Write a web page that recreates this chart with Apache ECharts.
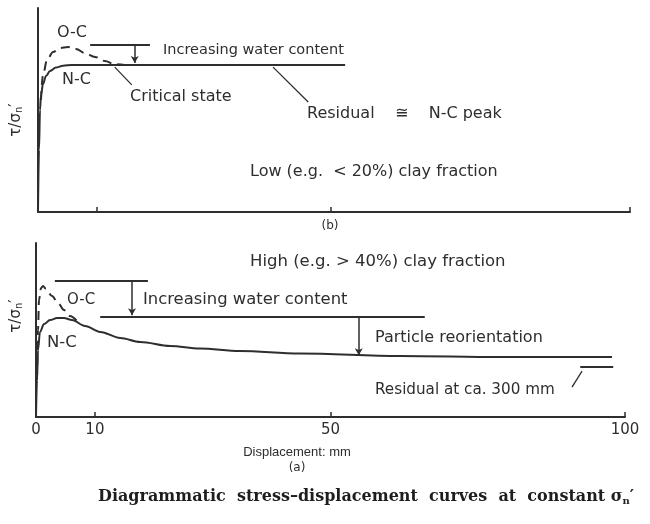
<!DOCTYPE html>
<html>
<head>
<meta charset="utf-8">
<script src="https://cdn.jsdelivr.net/npm/echarts@6/dist/echarts.min.js"></script>
<style>
  html, body { margin: 0; padding: 0; background: #fff; }
  #chart { width: 650px; height: 524px; }
</style>
</head>
<body>
<div id="chart"></div>
<script>
// displacement ticks (mm) and labels
const tickValues = [10, 50, 100];
const tickLabels = [0, 10, 50, 100];

// (b) low clay fraction: [displacement, tau/sigma'n] (arbitrary units)
const lowNC = [[0, 0], [0.17, 3.04], [0.34, 5.0], [0.51, 5.74], [0.85, 6.27], [1.37, 6.67],
  [2.05, 6.91], [3.07, 7.08], [4.27, 7.17], [5.8, 7.21], [52.4, 7.21]];
const lowOC = [[0.51, 5.49], [0.85, 6.72], [1.54, 7.45], [2.56, 7.84], [3.75, 8.04], [5.12, 8.09],
  [6.48, 7.99], [8.02, 7.79], [9.73, 7.6], [11.4, 7.4], [13.1, 7.25], [14.8, 7.21]];
const lowPeakLine = [[8.9, 8.19], [19.1, 8.19]];
const lowWaterArrow = [[16.5, 8.19], [16.5, 7.3]];
const lowCritLeader = [[13.1, 7.1], [16.0, 6.23]];
const lowResLeader = [[40.1, 7.1], [46.1, 5.39]];

// (a) high clay fraction
const highNC = [[0, 0], [0.17, 2.13], [0.34, 3.85], [0.68, 4.89], [1.36, 5.34], [2.38, 5.57],
  [3.57, 5.69], [4.75, 5.69], [6.11, 5.57], [8.32, 5.23], [10.9, 4.89], [14.3, 4.54],
  [17.7, 4.31], [22.8, 4.08], [27.8, 3.94], [34.6, 3.79], [44.8, 3.65], [61.8, 3.51],
  [78.8, 3.45], [97.8, 3.45]];
const highOC = [[0.17, 2.13], [0.34, 5.0], [0.51, 6.72], [0.85, 7.41], [1.19, 7.53], [1.7, 7.36],
  [2.72, 6.95], [3.74, 6.55], [4.75, 6.15], [5.77, 5.8], [7.13, 5.46]];
const highTopLine = [[3.2, 7.82], [19.0, 7.82]];
const highPeakLine = [[10.9, 5.75], [66.0, 5.75]];
const highWaterArrow = [[16.3, 7.82], [16.3, 5.85]];
const highReorientArrow = [[54.8, 5.75], [54.8, 3.55]];
const highResidualLine = [[92.4, 2.87], [98.0, 2.87]];
const highResLeader = [[91.0, 1.72], [92.7, 2.64]];

const INK = '#2e2e2e';
const FONT = '"DejaVu Sans", sans-serif';

const chart = echarts.init(document.getElementById('chart'));

function curve(data, idx, dashed) {
  return {
    type: 'line', xAxisIndex: idx, yAxisIndex: idx, data,
    showSymbol: false, smooth: 0.35, smoothMonotone: 'x', silent: true,
    lineStyle: { color: INK, width: 2, type: dashed ? [9, 6] : 'solid' },
  };
}
function seg(data, idx, w) {
  return {
    type: 'line', xAxisIndex: idx, yAxisIndex: idx, data,
    showSymbol: false, silent: true,
    lineStyle: { color: INK, width: w || 1.5 },
  };
}
function arrow(data, idx) {
  return {
    type: 'line', xAxisIndex: idx, yAxisIndex: idx, data: [], silent: true,
    markLine: {
      silent: true, symbol: ['none', 'arrow'], symbolSize: [6, 7],
      label: { show: false },
      lineStyle: { color: INK, width: 1.5, type: 'solid' },
      data: [[{ coord: data[0] }, { coord: data[1] }]],
    },
  };
}
function txt(text, x, y, size) {
  return {
    type: 'text', x, y,
    style: { text, fill: INK, font: size + 'px ' + FONT, textVerticalAlign: 'middle' },
  };
}
function ctxt(text, x, y, size, font) {
  return {
    type: 'text', x, y,
    style: { text, fill: INK, font: size + 'px ' + (font || FONT), textAlign: 'center', textVerticalAlign: 'middle' },
  };
}

const xAxisBase = {
  type: 'value', min: 0,
  axisLine: { show: true, onZero: false, lineStyle: { color: INK, width: 2 } },
  axisTick: { show: true, inside: true, length: 5, customValues: tickValues, lineStyle: { color: INK, width: 1.5 } },
  splitLine: { show: false },
};
const yAxisBase = {
  type: 'value', min: 0, max: 10,
  axisLine: { show: true, lineStyle: { color: INK, width: 2 } },
  axisTick: { show: false }, axisLabel: { show: false }, splitLine: { show: false },
};

const sigmaRich = {
  a: { fontSize: 15, fontFamily: FONT, fill: INK },
  s: { fontSize: 10, fontFamily: FONT, verticalAlign: 'bottom', fill: INK, padding: [7, 0, 0, 0] },
};

chart.setOption({
  animation: false,
  backgroundColor: '#fff',
  grid: [
    { left: 38, right: 20, top: 8, height: 204 },
    { left: 36, right: 25, top: 243, height: 174 },
  ],
  xAxis: [
    Object.assign({}, xAxisBase, { gridIndex: 0, max: 101,
      axisTick: Object.assign({}, xAxisBase.axisTick, { customValues: [10, 50, 101] }),
      axisLabel: { show: false } }),
    Object.assign({}, xAxisBase, { gridIndex: 1, max: 100,
      axisLabel: { show: true, customValues: tickLabels, margin: 6, color: INK, fontSize: 15, fontFamily: FONT } }),
  ],
  yAxis: [
    Object.assign({}, yAxisBase, { gridIndex: 0 }),
    Object.assign({}, yAxisBase, { gridIndex: 1 }),
  ],
  series: [
    curve(lowNC, 0, false),
    curve(lowOC, 0, true),
    seg(lowPeakLine, 0, 2),
    arrow(lowWaterArrow, 0),
    seg(lowCritLeader, 0, 1.3),
    seg(lowResLeader, 0, 1.3),

    curve(highNC, 1, false),
    curve(highOC, 1, true),
    seg(highTopLine, 1, 2),
    seg(highPeakLine, 1, 2),
    arrow(highWaterArrow, 1),
    arrow(highReorientArrow, 1),
    seg(highResidualLine, 1, 2),
    seg(highResLeader, 1, 1.3),
  ],
  graphic: [
    // panel (b)
    txt('O-C', 57, 33, 16),
    txt('N-C', 62, 80, 16),
    txt('Increasing water content', 163, 50, 14.5),
    txt('Critical state', 130, 97, 16),
    txt('Residual    \u2245    N-C peak', 307, 114, 16),
    txt('Low (e.g.  < 20%) clay fraction', 250, 172, 16),
    ctxt('(b)', 330, 226, 12),
    { type: 'text', x: 16, y: 120, rotation: Math.PI / 2,
      style: { text: '{a|\u03c4/\u03c3}{s|n}{a|\u2032}', rich: sigmaRich, textAlign: 'center', textVerticalAlign: 'middle' } },

    // panel (a)
    txt('High (e.g. > 40%) clay fraction', 250, 262, 16.5),
    txt('O-C', 67, 300, 15),
    txt('N-C', 47, 343, 16.5),
    txt('Increasing water content', 143, 300, 16.4),
    txt('Particle reorientation', 375, 338, 16),
    txt('Residual at ca. 300 mm', 375, 390, 15.2),
    { type: 'text', x: 16, y: 316, rotation: Math.PI / 2,
      style: { text: '{a|\u03c4/\u03c3}{s|n}{a|\u2032}', rich: sigmaRich, textAlign: 'center', textVerticalAlign: 'middle' } },
    ctxt('Displacement: mm', 297, 452, 13, '"Liberation Sans", Arial, sans-serif'),
    ctxt('(a)', 297, 468, 12),

    // caption
    { type: 'text', x: 98, y: 497,
      style: {
        text: '{b|Diagrammatic  stress\u2013displacement  curves  at  constant \u03c3}{sub|n}{b|\u2032}',
        textVerticalAlign: 'middle',
        rich: {
          b: { fontSize: 16, fontWeight: 'bold', fontFamily: '"DejaVu Serif", serif', fill: '#1e1e1e' },
          sub: { fontSize: 10, fontWeight: 'bold', fontFamily: '"DejaVu Serif", serif', fill: '#1e1e1e', padding: [8, 0, 0, 0] },
        },
      } },
  ],
});
</script>
</body>
</html>
